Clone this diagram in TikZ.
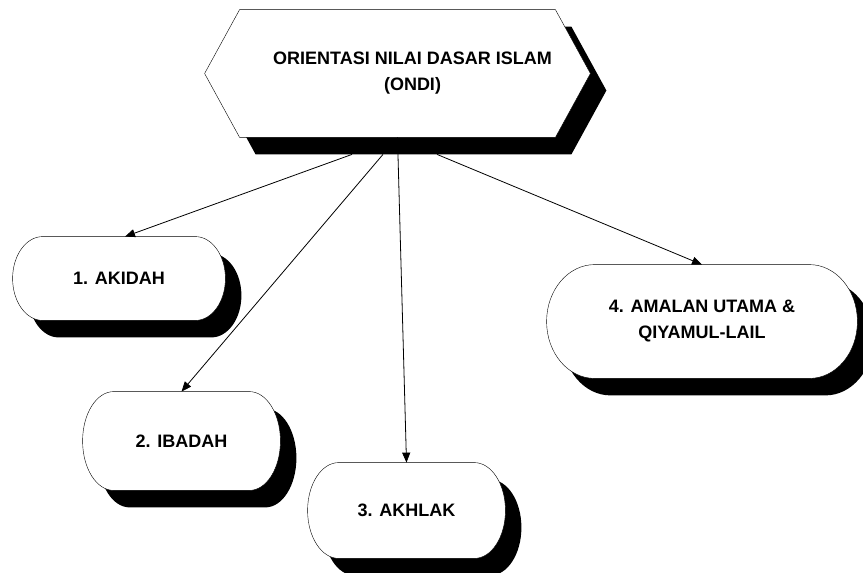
\documentclass[tikz,border=0pt]{standalone}
\usepackage{fontspec}
\setmainfont{Liberation Sans}
\usetikzlibrary{arrows.meta,positioning,backgrounds,calc}

\tikzset{
  ondibox/.style={inner sep=0pt, minimum width=315pt, minimum height=127pt},
  termbox/.style 2 args={inner sep=0pt, minimum width=#1, minimum height=#2, align=center},
  boxshadow/.style={draw, fill=white, preaction={fill=black, transform canvas={xshift=16pt, yshift=-17pt}}}
}

\begin{document}
\begin{tikzpicture}[x=1pt, y=1pt, on grid, line width=0.8pt,
    font=\bfseries\fontsize{18}{26}\selectfont,
    >={Triangle[length=10pt,width=8pt]}]
        \useasboundingbox (0,0) rectangle (863,-573);

        \node[ondibox] (ondi) at (397.5,-73.5) {};
        \node[align=center] (ondi_text) at ([xshift=15pt]ondi.center) {ORIENTASI NILAI DASAR ISLAM\\(ONDI)};

        \node[termbox={212pt}{83pt}] (akidah) [below left=205pt and 278.5pt of ondi] {1. AKIDAH};
        \node[termbox={197pt}{98pt}] (ibadah) [below left=367.5pt and 216pt of ondi] {2. IBADAH};
        \node[termbox={197pt}{95pt}] (akhlak) [below right=437pt and 9pt of ondi] {3. AKHLAK};
        \node[termbox={310pt}{113pt}] (amalan) [below right=248pt and 304.5pt of ondi] {4. AMALAN UTAMA \&\\QIYAMUL-LAIL};

        % shapes and shadows behind the texts
        \begin{scope}[on background layer]
          \path[boxshadow] (ondi.north west) -- (ondi.north east) -- ([xshift=35pt]ondi.east)
            -- (ondi.south east) -- (ondi.south west) -- ([xshift=-35pt]ondi.west) -- cycle;
          \foreach \nd/\r in {akidah/30, ibadah/31, akhlak/31, amalan/48}
            \path[boxshadow] let \p1=(\nd.south west), \p2=(\nd.north east), \n1={(\y2-\y1)/2} in
              (\x1+\r pt,\y2) -- (\x2-\r pt,\y2)
              arc[start angle=90, end angle=-90, x radius=\r pt, y radius=\n1]
              -- (\x1+\r pt,\y1)
              arc[start angle=270, end angle=90, x radius=\r pt, y radius=\n1] -- cycle;
        \end{scope}

        \coordinate (s_1) at ([shift={(-45.5,-17)}]ondi.south);
        \coordinate (s_2) at ([shift={(-14.5,-17)}]ondi.south);
        \coordinate (s_4) at ([shift={(39.5,-17)}]ondi.south);

        \path[->]
         (s_1) edge ([xshift=6pt]akidah.north)
         (s_2) edge (ibadah.north)
         (ondi.south) edge (akhlak.north)
         (s_4) edge (amalan.north);
\end{tikzpicture}
\end{document}
